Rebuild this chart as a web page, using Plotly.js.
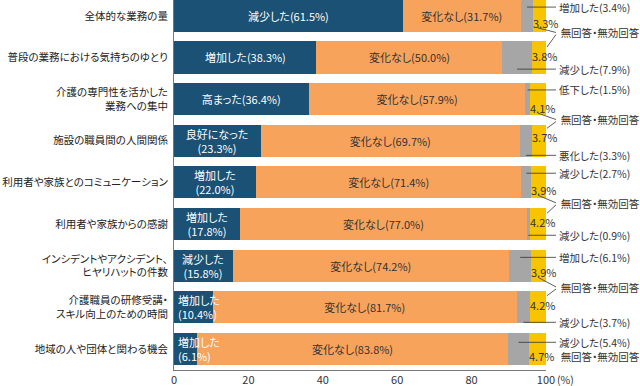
<!DOCTYPE html>
<html><head><meta charset="utf-8">
<script src="https://cdn.plot.ly/plotly-3.0.1.min.js"></script>
<style>html,body{margin:0;padding:0;background:#fff}#chart{width:640px;height:386px}
#chart text{font-feature-settings:"palt" 1;}</style>
</head><body><div id="chart"></div>
<script>
// ---- data ----
const categories = ['全体的な業務の量','普段の業務における気持ちのゆとり','介護の専門性を活かした<br>業務への集中','施設の職員間の人間関係','利用者や家族とのコミュニケーション','利用者や家族からの感謝','インシデントやアクシデント、<br>ヒヤリハットの件数','介護職員の研修受講・<br>スキル向上のための時間','地域の人や団体と関わる機会'];
const mainLabels = ['減少した','増加した','高まった','良好になった','増加した','増加した','減少した','増加した','増加した'];
const mainValues = [61.5,38.3,36.4,23.3,22.0,17.8,15.8,10.4,6.1];
const noChangeLabel = '変化なし';
const noChangeValues = [31.7,50.0,57.9,69.7,71.4,77.0,74.2,81.7,83.8];
const otherLabels = ['増加した','減少した','低下した','悪化した','減少した','減少した','増加した','減少した','減少した'];
const otherValues = [3.4,7.9,1.5,3.3,2.7,0.9,6.1,3.7,5.4];
const noAnswerLabel = '無回答・無効回答';
const noAnswerValues = [3.3,3.8,4.1,3.7,3.9,4.2,3.9,4.2,4.7];
const xTicks = [0,20,40,60,80,100];
const xTickText = ['0','20','40','60','80','100'];
const xUnit = '(%)';

// ---- layout helpers (positions only) ----
const otherLabelOffset = [-0.21,0.28,-0.22,0.35,-0.22,0.27,-0.2,0.36,-0.16];
const pctOffset = [0.17,-0.03,0.22,-0.08,0.19,-0.04,0.16,-0.06,0.18];
const sharedGroups = [[0,1,0.41],[2,3,2.5],[4,5,4.5],[6,7,6.52]];
const singleGroup = [8, 8.18];

const FONT = '"Noto Sans CJK JP", "Noto Sans", sans-serif';
const C_DARK = '#1a5174', C_ORANGE = '#f7a35c', C_GRAY = '#a6a6a6', C_YELLOW = '#f8c400';
const idx = categories.map((_, i) => i);
const W = 0.77;
const RS = 10.5; // right-side label size

const traces = [
  {type:'bar', orientation:'h', y:idx, x:mainValues, marker:{color:C_DARK}, width:W, hoverinfo:'skip'},
  {type:'bar', orientation:'h', y:idx, x:noChangeValues, marker:{color:C_ORANGE}, width:W, hoverinfo:'skip',
   texttemplate: noChangeLabel + '(%{x:.1f}%)', textposition:'inside', insidetextanchor:'middle',
   constraintext:'none', textangle:0, insidetextfont:{color:'#333', size:11, family:FONT}},
  {type:'bar', orientation:'h', y:idx, x:otherValues, marker:{color:C_GRAY}, width:W, hoverinfo:'skip'},
  {type:'bar', orientation:'h', y:idx, x:noAnswerValues, marker:{color:C_YELLOW}, width:W, hoverinfo:'skip'}
];

const annotations = [];
const shapes = [];
const px2paper = px => (px - 174) / 372;

idx.forEach(i => {
  const m = mainValues[i];
  const wrap = m < 30;
  const txt = mainLabels[i] + (wrap ? '<br>' : '') + '(' + m.toFixed(1) + '%)';
  const left = m < 12;
  annotations.push({x: left ? 0 : m/2, y: i, xref:'x', yref:'y', text: txt, showarrow:false,
    xanchor: left ? 'left' : 'center', xshift: left ? 2 : 0, align: left ? 'left' : 'center',
    font:{color:'#fff', size:11, family:FONT}});
  const gStart = m + noChangeValues[i];
  annotations.push({x: gStart + otherValues[i]/2, y: i + otherLabelOffset[i], xref:'x', yref:'y',
    text: otherLabels[i] + '(' + otherValues[i].toFixed(1) + '%)', showarrow:true, arrowhead:0,
    arrowwidth:0.8, arrowcolor:'#333', axref:'x', ax:102.7, ayref:'pixel', ay:0, xanchor:'left',
    font:{color:'#333', size:RS, family:FONT}});
  annotations.push({x: gStart + otherValues[i], y: i + pctOffset[i], xref:'x', yref:'y',
    text: noAnswerValues[i].toFixed(1) + '%', showarrow:false, xanchor:'left', xshift:-2,
    font:{color:'#333', size:11, family:FONT}});
});

sharedGroups.forEach(([a, b, ly]) => {
  annotations.push({x: px2paper(556), y: ly, xref:'paper', yref:'y', text: noAnswerLabel, showarrow:false,
    xanchor:'left', font:{color:'#333', size:RS, family:FONT}});
  shapes.push({type:'line', xref:'paper', yref:'y', x0: px2paper(538), y0: a + pctOffset[a] + 0.12,
    x1: px2paper(556), y1: ly - 0.01, line:{color:'#333', width:0.8}});
  shapes.push({type:'line', xref:'paper', yref:'y', x0: px2paper(556), y0: ly + 0.04,
    x1: px2paper(547), y1: b + pctOffset[b] - 0.22, line:{color:'#333', width:0.8}});
});
annotations.push({x: px2paper(556), y: singleGroup[1], xref:'paper', yref:'y', text: noAnswerLabel, showarrow:false,
  xanchor:'left', font:{color:'#333', size:RS, family:FONT}});

annotations.push({x:1, y:0, xref:'paper', yref:'paper', text:xUnit, showarrow:false, xanchor:'left',
  yanchor:'middle', xshift:10, yshift:-9, borderpad:0, font:{color:'#333', size:10.5, family:FONT}});

const layout = {
  width:640, height:386, barmode:'stack', showlegend:false,
  margin:{l:174, r:94, t:0, b:16},
  paper_bgcolor:'#fff', plot_bgcolor:'#fff',
  font:{family:FONT, size:11, color:'#333'},
  xaxis:{range:[0,100], tickvals:xTicks, ticktext:xTickText, showgrid:false, zeroline:false,
    showline:true, linecolor:'#777', linewidth:1, ticks:'', tickfont:{size:11, color:'#333'}},
  yaxis:{range:[8.505,-0.38], tickvals:idx, ticktext:categories, showgrid:false, zeroline:false,
    showline:true, linecolor:'#777', linewidth:1, ticks:'', ticklabelstandoff:3,
    tickfont:{size:10.5, color:'#222'}},
  annotations, shapes
};
Plotly.newPlot('chart', traces, layout, {staticPlot:true, displayModeBar:false});
</script></body></html>
